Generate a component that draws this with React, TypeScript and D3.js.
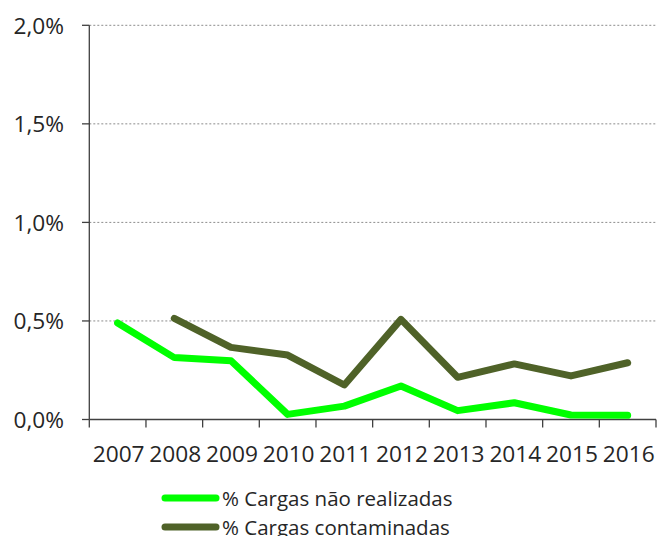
import React from "react";
import * as d3 from "d3";

const years = ["2007", "2008", "2009", "2010", "2011", "2012", "2013", "2014", "2015", "2016"];
const naoRealizadas: (number | null)[] = [0.0049, 0.00314, 0.00298, 0.00026, 0.00068, 0.0017, 0.00045, 0.00085, 0.00023, 0.00021];
const contaminadas: (number | null)[] = [null, 0.00513, 0.00366, 0.00327, 0.00175, 0.00508, 0.00214, 0.00282, 0.00221, 0.00288];
const yTicks = [0, 0.005, 0.01, 0.015, 0.02];
const seriesNames = ["% Cargas não realizadas", "% Cargas contaminadas"];
const seriesColors = ["#00FF00", "#4F6228"];

const W = 659;
const H = 536;
const FONT = "'Open Sans', sans-serif";

export default function App() {
  const x = d3.scaleBand<string>().domain(years).range([89.3, 656]).padding(0);
  const y = d3.scaleLinear().domain([0, 0.02]).range([419.5, 25.3]);
  const fmt = (v: number) => d3.format(".1%")(v).replace(".", ",");
  const line = d3
    .line<number | null>()
    .defined((d) => d !== null)
    .x((_, i) => (x(years[i]) as number) + x.bandwidth() / 2)
    .y((d) => y(d as number));

  const series = [naoRealizadas, contaminadas];
  const boundaries = years.map((yr) => x(yr) as number).concat([x.range()[1]]);

  return (
    <div style={{ position: "fixed", left: 0, top: 0 }}>
      <svg width={W} height={H} style={{ display: "block", background: "#fff" }}>
        {/* gridlines */}
        {yTicks.filter((t) => t > 0).map((t) => (
          <line key={"g" + t} x1={89.3} x2={656} y1={y(t)} y2={y(t)} stroke="#8c8c8c" strokeWidth={1} strokeDasharray="2,2" />
        ))}
        {/* y axis */}
        <line x1={89.3} x2={89.3} y1={y(0.02)} y2={y(0)} stroke="#404040" strokeWidth={1.3} />
        {yTicks.map((t) => (
          <g key={"yt" + t}>
            <line x1={82} x2={89.3} y1={y(t)} y2={y(t)} stroke="#404040" strokeWidth={1.3} />
            <text x={64} y={y(t) + 8.5} textAnchor="end" fontFamily={FONT} fontSize={22.7} fill="#262626">
              {fmt(t)}
            </text>
          </g>
        ))}
        {/* x axis */}
        <line x1={89.3} x2={656} y1={y(0)} y2={y(0)} stroke="#404040" strokeWidth={1.3} />
        {boundaries.map((b, i) => (
          <line key={"xt" + i} x1={b} x2={b} y1={y(0)} y2={y(0) + 8} stroke="#404040" strokeWidth={1.3} />
        ))}
        {years.map((yr) => (
          <text key={"xl" + yr} x={(x(yr) as number) + x.bandwidth() / 2 + 1} y={461.5} textAnchor="middle" fontFamily={FONT} fontSize={22.7} fill="#262626">
            {yr}
          </text>
        ))}
        {/* lines */}
        {series.map((s, i) => (
          <path key={"s" + i} d={line(s) || ""} fill="none" stroke={seriesColors[i]} strokeWidth={7} strokeLinecap="round" strokeLinejoin="round" />
        ))}
        {/* legend */}
        {seriesNames.map((n, i) => (
          <g key={"lg" + i}>
            <line x1={165} x2={216} y1={498 + i * 29} y2={498 + i * 29} stroke={seriesColors[i]} strokeWidth={7} strokeLinecap="round" />
            <text x={222} y={506 + i * 29} fontFamily={FONT} fontSize={20.5} fill="#262626">
              {n}
            </text>
          </g>
        ))}
      </svg>
    </div>
  );
}
